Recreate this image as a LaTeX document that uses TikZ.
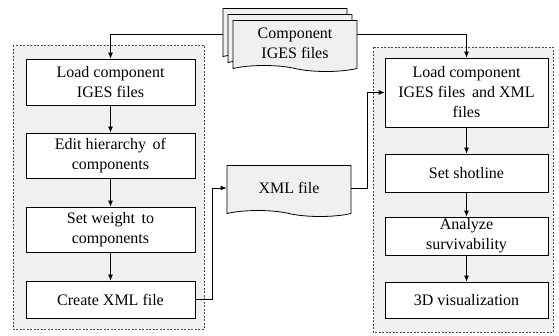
\documentclass[tikz,border=0pt]{standalone}
\usepackage{fontspec}
\setmainfont{Liberation Serif}
\usetikzlibrary{arrows.meta,shapes.symbols}

\begin{document}
\begin{tikzpicture}[x=1pt,y=-1pt,
  every node/.style={font=\fontsize{16}{20}\selectfont,align=center,inner sep=0pt},
  group/.style={draw=black!70,fill=black!6,dash pattern=on 2pt off 1.5pt,line width=0.8pt},
  stepbox/.style={draw,fill=white,line width=0.8pt,minimum width=#1},
  doc/.style={tape,tape bend top=none,tape bend bottom=out and in,tape bend height=6pt,
    draw,fill=black!6,line width=0.8pt,minimum width=124pt,minimum height=51pt},
  link/.style={line width=0.8pt,-{Latex[length=6pt,width=5pt]}}]
\useasboundingbox (0,0) rectangle (559,335);
\draw[group] (13,45) rectangle (204,329);
\draw[group] (373,47) rectangle (553,332);
\node (back) [doc] at (285,31) {};
\node (mid) [doc] at (290,37) {};
\node (front) [doc] at (295,43) {Component\\IGES files};
\node (xml) [doc] at (289,188) {XML file};
\node (l1) [stepbox=169pt,minimum height=46pt] at (110.5,82) {Load component\\IGES files};
\node (l2) [stepbox=169pt,minimum height=45pt] at (110.5,155.5) {Edit hierarchy\, of\\components};
\node (l3) [stepbox=169pt,minimum height=45pt] at (110.5,229.5) {Set weight\, to\\components};
\node (l4) [stepbox=169pt,minimum height=37pt] at (110.5,299.5) {Create XML file};
\node (r1) [stepbox=163pt,minimum height=69pt] at (466.5,92.5) {Load component\\IGES files\, and XML\\files};
\node (r2) [stepbox=163pt,minimum height=38pt] at (466.5,173) {Set shotline};
\node (r3) [stepbox=163pt,minimum height=38pt] at (466.5,236) {Analyze\\survivability};
\node (r4) [stepbox=163pt,minimum height=36pt] at (466.5,300) {3D visualization};
\draw[link] (back.west |- 0,34) -| (l1.north);
\draw[link] (front.east |- 0,34) -| (r1.north);
\draw[link] (l1) -- (l2);
\draw[link] (l2) -- (l3);
\draw[link] (l3) -- (l4);
\draw[link] (l4.east) -- ++(17,0) |- (xml.west);
\draw[link] (xml.east) -- ++(16,0) |- (r1.west);
\draw[link] (r1) -- (r2);
\draw[link] (r2) -- (r3);
\draw[link] (r3) -- (r4);
\end{tikzpicture}
\end{document}
